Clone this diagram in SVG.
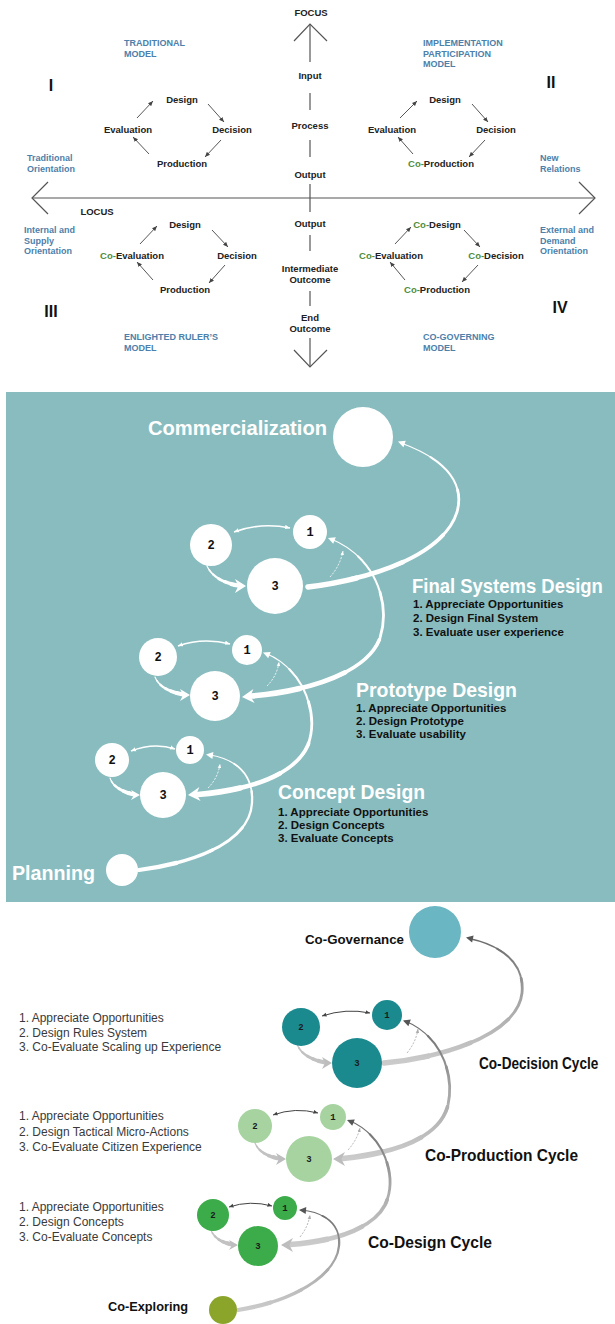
<svg xmlns="http://www.w3.org/2000/svg" width="615" height="1324" viewBox="0 0 615 1324">
<defs>
<style>
.t{font-family:"Liberation Sans",Arial,sans-serif;font-weight:bold}
.ax{font-size:9.5px;fill:#222;text-anchor:middle}
.bl{font-size:9px;fill:#4d80aa}
.co{fill:#4f8d3d}
.rn{font-size:16px;fill:#111;text-anchor:middle}
.th{font-size:21px;fill:#fff}
.tl{font-size:11.5px;fill:#111}
.nm{font-family:"Liberation Mono","DejaVu Sans Mono",monospace;font-weight:bold;font-size:12px;fill:#111;text-anchor:middle}
.nb{font-family:"Liberation Mono","DejaVu Sans Mono",monospace;font-weight:bold;font-size:9px;fill:#1a1a1a;text-anchor:middle}
.bh{font-size:17px;fill:#111}
.bg{font-size:13.5px;fill:#111}
.ls{font-family:"Liberation Sans",Arial,sans-serif;font-size:12px;fill:#3a3a3a}
.axl{stroke:#555;stroke-width:1.2;fill:none}
.cy{stroke:#444;stroke-width:0.9;fill:none;marker-end:url(#ah)}
.tw{fill:none;stroke:#fff;stroke-linecap:round}
.tg{fill:none;stroke:url(#gg);stroke-linecap:round}
.tl2{fill:none;stroke:#c2c2c2;stroke-linecap:round}
.w1{stroke-width:5.5;stroke-dasharray:18 200}
.w2{stroke-width:4.6;stroke-dasharray:0 16 20 200}
.w3{stroke-width:3.7;stroke-dasharray:0 34 20 200}
.w4{stroke-width:2.8;stroke-dasharray:0 52 20 200}
.w5{stroke-width:2;stroke-dasharray:0 70 18 200}
.w6{stroke-width:1.3;stroke-dasharray:0 86 15 200}
.v1{stroke-width:4.2;stroke-dasharray:18 200}
.v2{stroke-width:3.5;stroke-dasharray:0 16 20 200}
.v3{stroke-width:2.9;stroke-dasharray:0 34 20 200}
.v4{stroke-width:2.3;stroke-dasharray:0 52 20 200}
.v5{stroke-width:1.7;stroke-dasharray:0 70 18 200}
.v6{stroke-width:1.2;stroke-dasharray:0 86 15 200}
.dbw{fill:none;stroke:#fff;stroke-width:1.6;marker-start:url(#aw);marker-end:url(#aw)}
.dbg{fill:none;stroke:#444;stroke-width:1;marker-start:url(#ad);marker-end:url(#ad)}
.dsw{fill:none;stroke:#fff;stroke-width:0.9;stroke-dasharray:2 1.5;marker-end:url(#aws)}
.dsg{fill:none;stroke:#aaa;stroke-width:0.9;stroke-dasharray:2 1.5;marker-end:url(#ags)}
.hw{fill:#fff}
.hg{fill:#bdbdbd}
.hd{fill:#555}
</style>
<linearGradient id="gg" x1="0" y1="0" x2="0" y2="1">
<stop offset="0" stop-color="#6a6a6a"/>
<stop offset="0.5" stop-color="#a5a5a5"/>
<stop offset="1" stop-color="#cbcbcb"/>
</linearGradient>
<marker id="ah" viewBox="0 0 6 6" refX="6" refY="3" markerWidth="5" markerHeight="5" markerUnits="userSpaceOnUse" orient="auto"><path d="M0,0.4 L6,3 L0,5.6 z" fill="#444"/></marker>
<marker id="aw" viewBox="0 0 6 6" refX="6" refY="3" markerWidth="5" markerHeight="5" markerUnits="userSpaceOnUse" orient="auto-start-reverse"><path d="M0,0.4 L6,3 L0,5.6 z" fill="#fff"/></marker>
<marker id="ad" viewBox="0 0 6 6" refX="6" refY="3" markerWidth="4.5" markerHeight="4.5" markerUnits="userSpaceOnUse" orient="auto-start-reverse"><path d="M0,0.4 L6,3 L0,5.6 z" fill="#444"/></marker>
<marker id="aws" viewBox="0 0 6 6" refX="6" refY="3" markerWidth="4" markerHeight="4" markerUnits="userSpaceOnUse" orient="auto"><path d="M0,0.4 L6,3 L0,5.6 z" fill="#fff"/></marker>
<marker id="ags" viewBox="0 0 6 6" refX="6" refY="3" markerWidth="4" markerHeight="4" markerUnits="userSpaceOnUse" orient="auto"><path d="M0,0.4 L6,3 L0,5.6 z" fill="#aaa"/></marker>
<path id="pA" pathLength="100" d="M 308 587 C 380 578, 445 552, 457 512 C 466 480, 440 457, 401 443"/>
<path id="pB" pathLength="100" d="M 252 696 C 310 691, 368 672, 380 638 C 392 600, 372 555, 331 539"/>
<path id="pC" pathLength="100" d="M 198 794.5 C 250 790, 295 775, 308 745 C 320 712, 302 668, 266 653.5"/>
<path id="pD" pathLength="100" d="M 139 870 C 200 862, 250 840, 252 803 C 254 775, 236 759, 210 755"/>
<path id="pE" pathLength="100" d="M 238 585.5 Q 214 581, 207 566"/>
<path id="pF" pathLength="100" d="M 183 694.5 Q 160 690, 155 677"/>
<path id="pG" pathLength="100" d="M 134 794.5 Q 114 790, 110 778"/>
<path id="pH" pathLength="100" d="M 384 1063 C 450 1057, 518 1032, 522 993 C 525 962, 500 945, 469 938.5"/>
<path id="pI" pathLength="100" d="M 343 1158.5 C 395 1153, 440 1138, 448 1105 C 455 1073, 440 1035, 405 1021"/>
<path id="pJ" pathLength="100" d="M 290 1244.5 C 330 1242, 372 1230, 385 1205 C 398 1178, 385 1135, 349 1120.5"/>
<path id="pK" pathLength="100" d="M 238 1310 C 290 1302, 336 1277, 339 1246 C 341 1224, 324 1212, 301 1210"/>
<path id="pL" pathLength="100" d="M 325 1062.5 Q 302 1058, 297 1044"/>
<path id="pM" pathLength="100" d="M 279 1158.5 Q 260 1155, 255 1143"/>
<path id="pN" pathLength="100" d="M 232 1244.5 Q 215 1241, 211 1230"/>
</defs>

<rect x="0" y="0" width="615" height="1324" fill="#fff"/>

<g id="axes">
<line class="axl" x1="32" y1="198" x2="595" y2="198"/>
<polyline class="axl" points="48,182 32,198 48,214"/>
<polyline class="axl" points="579,182 595,198 579,214"/>
<line class="axl" x1="310" y1="24" x2="310" y2="62"/>
<polyline class="axl" points="294,41 310,24 327,41"/>
<line class="axl" x1="310" y1="93" x2="310" y2="110"/>
<line class="axl" x1="310" y1="140" x2="310" y2="157"/>
<line class="axl" x1="310" y1="184" x2="310" y2="212"/>
<line class="axl" x1="310" y1="235" x2="310" y2="251"/>
<line class="axl" x1="310" y1="291" x2="310" y2="306"/>
<line class="axl" x1="310" y1="338" x2="310" y2="367"/>
<polyline class="axl" points="294,350 310,367 327,350"/>
</g>
<g id="axis-labels" class="t">
<text class="ax" x="311" y="15.5">FOCUS</text>
<text class="ax" x="310" y="78.5">Input</text>
<text class="ax" x="310" y="128.5">Process</text>
<text class="ax" x="310" y="177.5">Output</text>
<text class="ax" x="310" y="227">Output</text>
<text class="ax" x="310" y="271.5">Intermediate</text>
<text class="ax" x="310" y="282.5">Outcome</text>
<text class="ax" x="310" y="320.5">End</text>
<text class="ax" x="310" y="331.5">Outcome</text>
<text class="ax" x="97" y="214.5">LOCUS</text>
</g>
<g id="quadrant-labels" class="t">
<text class="bl" x="124" y="46">TRADITIONAL</text>
<text class="bl" x="124" y="57">MODEL</text>
<text class="bl" x="423" y="46">IMPLEMENTATION</text>
<text class="bl" x="423" y="56.5">PARTICIPATION</text>
<text class="bl" x="423" y="67">MODEL</text>
<text class="bl" x="124" y="340">ENLIGHTED RULER’S</text>
<text class="bl" x="124" y="350.5">MODEL</text>
<text class="bl" x="423" y="340">CO-GOVERNING</text>
<text class="bl" x="423" y="350.5">MODEL</text>
<text class="bl" x="27" y="161">Traditional</text>
<text class="bl" x="27" y="171.5">Orientation</text>
<text class="bl" x="540" y="161">New</text>
<text class="bl" x="540" y="171.5">Relations</text>
<text class="bl" x="24" y="233">Internal and</text>
<text class="bl" x="24" y="243.5">Supply</text>
<text class="bl" x="24" y="254">Orientation</text>
<text class="bl" x="540" y="233">External and</text>
<text class="bl" x="540" y="243.5">Demand</text>
<text class="bl" x="540" y="254">Orientation</text>
<text class="rn" x="51" y="91">I</text>
<text class="rn" x="551" y="88">II</text>
<text class="rn" x="51" y="317">III</text>
<text class="rn" x="560" y="313">IV</text>
</g>
<g id="cycle-I" class="t">
<text class="ax" x="182" y="102.5">Design</text>
<text class="ax" x="128" y="132.5">Evaluation</text>
<text class="ax" x="232" y="132.5">Decision</text>
<text class="ax" x="182" y="166.5">Production</text>
</g>
<g id="cycle-II" class="t">
<text class="ax" x="445" y="102.5">Design</text>
<text class="ax" x="392" y="132.5">Evaluation</text>
<text class="ax" x="496" y="132.5">Decision</text>
<text class="ax" x="441" y="166.5"><tspan class="co">Co-</tspan>Production</text>
</g>
<g id="cycle-III" class="t">
<text class="ax" x="185" y="227.5">Design</text>
<text class="ax" x="132" y="258.5"><tspan class="co">Co-</tspan>Evaluation</text>
<text class="ax" x="237" y="258.5">Decision</text>
<text class="ax" x="185" y="292.5">Production</text>
</g>
<g id="cycle-IV" class="t">
<text class="ax" x="437" y="227.5"><tspan class="co">Co-</tspan>Design</text>
<text class="ax" x="391" y="258.5"><tspan class="co">Co-</tspan>Evaluation</text>
<text class="ax" x="496" y="258.5"><tspan class="co">Co-</tspan>Decision</text>
<text class="ax" x="437" y="292.5"><tspan class="co">Co-</tspan>Production</text>
</g>

<rect id="teal-panel" x="6" y="392" width="609" height="510" fill="#89bcbf"/>

<g id="connectors">
<line class="cy" x1="137" y1="118" x2="153" y2="101"/>
<line class="cy" x1="208" y1="104" x2="224" y2="122"/>
<line class="cy" x1="221" y1="140" x2="205" y2="157"/>
<line class="cy" x1="149" y1="154" x2="133" y2="137"/>
<line class="cy" x1="400" y1="118" x2="417" y2="101"/>
<line class="cy" x1="472" y1="104" x2="488" y2="122"/>
<line class="cy" x1="485" y1="140" x2="469" y2="157"/>
<line class="cy" x1="413" y1="154" x2="398" y2="137"/>
<line class="cy" x1="140" y1="244" x2="157" y2="226"/>
<line class="cy" x1="212" y1="230" x2="228" y2="247"/>
<line class="cy" x1="225" y1="265" x2="209" y2="283"/>
<line class="cy" x1="153" y1="280" x2="137" y2="262"/>
<line class="cy" x1="395" y1="244" x2="411" y2="227"/>
<line class="cy" x1="464" y1="230" x2="480" y2="247"/>
<line class="cy" x1="478" y1="265" x2="462" y2="282"/>
<line class="cy" x1="405" y1="280" x2="390" y2="262"/>

<g class="tw"><use href="#pA" class="w1"/><use href="#pA" class="w2"/><use href="#pA" class="w3"/><use href="#pA" class="w4"/><use href="#pA" class="w5"/><use href="#pA" class="w6"/></g>
<polygon class="hw" points="398,441.5 405.8,440.7 403.4,447.3"/>
<g class="tw"><use href="#pB" class="w1"/><use href="#pB" class="w2"/><use href="#pB" class="w3"/><use href="#pB" class="w4"/><use href="#pB" class="w5"/><use href="#pB" class="w6"/></g>
<polygon class="hw" points="242,697 253.4,689 250.4,696.3 254.6,703"/>
<polygon class="hw" points="328,538 335.8,537.2 333.2,543.8"/>
<g class="tw"><use href="#pC" class="w1"/><use href="#pC" class="w2"/><use href="#pC" class="w3"/><use href="#pC" class="w4"/><use href="#pC" class="w5"/><use href="#pC" class="w6"/></g>
<polygon class="hw" points="188,795 199.4,787 196.4,794.3 200.6,801"/>
<polygon class="hw" points="263,652.5 270.8,651.9 268.2,658.3"/>
<g class="tw"><use href="#pD" class="v1"/><use href="#pD" class="v2"/><use href="#pD" class="v3"/><use href="#pD" class="v4"/><use href="#pD" class="v5"/><use href="#pD" class="v6"/></g>
<polygon class="hw" points="206,754.5 213.4,752 212.4,759"/>

<path class="dbw" d="M 234 532 Q 261 522, 290 528"/>
<g class="tw"><use href="#pE" class="v1"/><use href="#pE" class="v2"/><use href="#pE" class="v3"/><use href="#pE" class="v4"/><use href="#pE" class="v5"/><use href="#pE" class="v6"/></g>
<polygon class="hw" points="246,586 235,579 238.3,586 235,593"/>
<path class="dsw" d="M 330 577 Q 340 566, 343 551"/>

<path class="dbw" d="M 178 646 Q 203 637, 230 644"/>
<g class="tw"><use href="#pF" class="v1"/><use href="#pF" class="v2"/><use href="#pF" class="v3"/><use href="#pF" class="v4"/><use href="#pF" class="v5"/><use href="#pF" class="v6"/></g>
<polygon class="hw" points="190,695 180,689 183,695 180,701"/>
<path class="dsw" d="M 267 686 Q 277 676, 279 662"/>

<path class="dbw" d="M 131 751 Q 154 742, 175 749"/>
<g class="tw"><use href="#pG" class="v1"/><use href="#pG" class="v2"/><use href="#pG" class="v3"/><use href="#pG" class="v4"/><use href="#pG" class="v5"/><use href="#pG" class="v6"/></g>
<polygon class="hw" points="140,795 131,790 134,795 131,800"/>
<path class="dsw" d="M 208 788 Q 218 778, 220 764"/>

<g class="tg"><use href="#pH" class="w1"/><use href="#pH" class="w2"/><use href="#pH" class="w3"/><use href="#pH" class="w4"/><use href="#pH" class="w5"/><use href="#pH" class="w6"/></g>
<polygon class="hd" points="466,937.5 473.6,935.6 472.1,942.4"/>
<g class="tg"><use href="#pI" class="w1"/><use href="#pI" class="w2"/><use href="#pI" class="w3"/><use href="#pI" class="w4"/><use href="#pI" class="w5"/><use href="#pI" class="w6"/></g>
<polygon class="hg" points="333,1159 345,1152 341.4,1159 345,1166"/>
<polygon class="hd" points="403,1020.5 410.8,1019.6 408.4,1026.2"/>
<g class="tg"><use href="#pJ" class="w1"/><use href="#pJ" class="w2"/><use href="#pJ" class="w3"/><use href="#pJ" class="w4"/><use href="#pJ" class="w5"/><use href="#pJ" class="w6"/></g>
<polygon class="hg" points="281,1245 293,1238 289.4,1245 293,1252"/>
<polygon class="hd" points="347,1120 354.8,1119.4 352.2,1125.8"/>
<g class="tg"><use href="#pK" class="v1"/><use href="#pK" class="v2"/><use href="#pK" class="v3"/><use href="#pK" class="v4"/><use href="#pK" class="v5"/><use href="#pK" class="v6"/></g>
<polygon class="hd" points="299,1209.9 306.3,1207 305.7,1214"/>

<path class="dbg" d="M 322 1016 Q 346 1008, 370 1013"/>
<g class="tl2"><use href="#pL" class="v1"/><use href="#pL" class="v2"/><use href="#pL" class="v3"/><use href="#pL" class="v4"/><use href="#pL" class="v5"/><use href="#pL" class="v6"/></g>
<polygon class="hg" points="332,1063 322,1057 325,1063 322,1069"/>
<path class="dsg" d="M 407 1053 Q 416 1042, 418 1029"/>

<path class="dbg" d="M 273 1115 Q 295 1107, 318 1113"/>
<g class="tl2"><use href="#pM" class="v1"/><use href="#pM" class="v2"/><use href="#pM" class="v3"/><use href="#pM" class="v4"/><use href="#pM" class="v5"/><use href="#pM" class="v6"/></g>
<polygon class="hg" points="286,1159 276,1153 279,1159 276,1165"/>
<path class="dsg" d="M 348 1150 Q 357 1140, 360 1128"/>

<path class="dbg" d="M 229 1207 Q 250 1200, 272 1206"/>
<g class="tl2"><use href="#pN" class="v1"/><use href="#pN" class="v2"/><use href="#pN" class="v3"/><use href="#pN" class="v4"/><use href="#pN" class="v5"/><use href="#pN" class="v6"/></g>
<polygon class="hg" points="238,1245 229,1240 232,1245 229,1250"/>
<path class="dsg" d="M 300 1237 Q 308 1227, 310 1215"/>
</g>

<g id="n-commercialization">
<circle cx="363" cy="437" r="30" fill="#fff"/>
<text class="t th" x="148" y="435" textLength="179" lengthAdjust="spacingAndGlyphs">Commercialization</text>
</g>
<g id="n-final-1"><circle cx="310" cy="532" r="17" fill="#fff"/><text class="nm" x="310" y="536">1</text></g>
<g id="n-final-2"><circle cx="211" cy="545" r="21" fill="#fff"/><text class="nm" x="211" y="549">2</text></g>
<g id="n-final-3"><circle cx="275" cy="586" r="28" fill="#fff"/><text class="nm" x="275" y="590">3</text></g>
<g id="n-final-label" class="t">
<text class="th" transform="translate(412,593) scale(0.88,1)" x="0" y="0">Final Systems Design</text>
<text class="tl" x="413" y="608">1. Appreciate Opportunities</text>
<text class="tl" x="413" y="622">2. Design Final System</text>
<text class="tl" x="413" y="636">3. Evaluate user experience</text>
</g>
<g id="n-proto-1"><circle cx="247" cy="650" r="15" fill="#fff"/><text class="nm" x="247" y="654">1</text></g>
<g id="n-proto-2"><circle cx="158" cy="657" r="19" fill="#fff"/><text class="nm" x="158" y="661">2</text></g>
<g id="n-proto-3"><circle cx="215" cy="696" r="25" fill="#fff"/><text class="nm" x="215" y="700">3</text></g>
<g id="n-proto-label" class="t">
<text class="th" x="356" y="697" textLength="161" lengthAdjust="spacingAndGlyphs">Prototype Design</text>
<text class="tl" x="356" y="712">1. Appreciate Opportunities</text>
<text class="tl" x="356" y="725">2. Design Prototype</text>
<text class="tl" x="356" y="738">3. Evaluate usability</text>
</g>
<g id="n-concept-1"><circle cx="190" cy="750" r="14" fill="#fff"/><text class="nm" x="190" y="754">1</text></g>
<g id="n-concept-2"><circle cx="112" cy="760" r="17" fill="#fff"/><text class="nm" x="112" y="764">2</text></g>
<g id="n-concept-3"><circle cx="163" cy="795" r="23" fill="#fff"/><text class="nm" x="163" y="799">3</text></g>
<g id="n-concept-label" class="t">
<text class="th" x="278" y="799" textLength="147" lengthAdjust="spacingAndGlyphs">Concept Design</text>
<text class="tl" x="278" y="816">1. Appreciate Opportunities</text>
<text class="tl" x="278" y="829">2. Design Concepts</text>
<text class="tl" x="278" y="842">3. Evaluate Concepts</text>
</g>
<g id="n-planning">
<circle cx="122" cy="870" r="16" fill="#fff"/>
<text class="t th" x="12" y="880" textLength="83" lengthAdjust="spacingAndGlyphs">Planning</text>
</g>

<g id="n-cogovernance">
<circle cx="435" cy="932" r="26" fill="#6ab6c2"/>
<text class="t bg" x="305" y="943.5" textLength="99" lengthAdjust="spacingAndGlyphs">Co-Governance</text>
</g>
<g id="n-codec-1"><circle cx="387" cy="1015" r="15" fill="#1b8a8f"/><text class="nb" x="387" y="1018">1</text></g>
<g id="n-codec-2"><circle cx="301" cy="1027" r="19" fill="#1b8a8f"/><text class="nb" x="301" y="1030">2</text></g>
<g id="n-codec-3"><circle cx="357" cy="1063" r="25" fill="#1b8a8f"/><text class="nb" x="357" y="1066">3</text></g>
<g id="n-codec-label">
<text class="t bh" transform="translate(479,1069) scale(0.8,1)" x="0" y="0">Co-Decision Cycle</text>
<text class="ls" x="19" y="1022">1. Appreciate Opportunities</text>
<text class="ls" x="19" y="1036.5">2. Design Rules System</text>
<text class="ls" x="19" y="1051">3. Co-Evaluate Scaling up Experience</text>
</g>
<g id="n-coprod-1"><circle cx="333" cy="1117" r="13" fill="#a6d3a0"/><text class="nb" x="333" y="1120">1</text></g>
<g id="n-coprod-2"><circle cx="255" cy="1126" r="17" fill="#a6d3a0"/><text class="nb" x="255" y="1129">2</text></g>
<g id="n-coprod-3"><circle cx="309" cy="1159" r="23" fill="#a6d3a0"/><text class="nb" x="309" y="1162">3</text></g>
<g id="n-coprod-label">
<text class="t bh" x="425" y="1161" textLength="153" lengthAdjust="spacingAndGlyphs">Co-Production Cycle</text>
<text class="ls" x="19" y="1120">1. Appreciate Opportunities</text>
<text class="ls" x="19" y="1135.5">2. Design Tactical Micro-Actions</text>
<text class="ls" x="19" y="1150.5">3. Co-Evaluate Citizen Experience</text>
</g>
<g id="n-codesign-1"><circle cx="285" cy="1208" r="12" fill="#3cab4a"/><text class="nb" x="285" y="1211">1</text></g>
<g id="n-codesign-2"><circle cx="213" cy="1215" r="16" fill="#3cab4a"/><text class="nb" x="213" y="1218">2</text></g>
<g id="n-codesign-3"><circle cx="258" cy="1246" r="20" fill="#3cab4a"/><text class="nb" x="258" y="1249">3</text></g>
<g id="n-codesign-label">
<text class="t bh" x="368" y="1248" textLength="124" lengthAdjust="spacingAndGlyphs">Co-Design Cycle</text>
<text class="ls" x="19" y="1211">1. Appreciate Opportunities</text>
<text class="ls" x="19" y="1226">2. Design Concepts</text>
<text class="ls" x="19" y="1241">3. Co-Evaluate Concepts</text>
</g>
<g id="n-coexploring">
<circle cx="223" cy="1310" r="14" fill="#8ba52b"/>
<text class="t bg" x="108" y="1311" textLength="80" lengthAdjust="spacingAndGlyphs">Co-Exploring</text>
</g>
</svg>
